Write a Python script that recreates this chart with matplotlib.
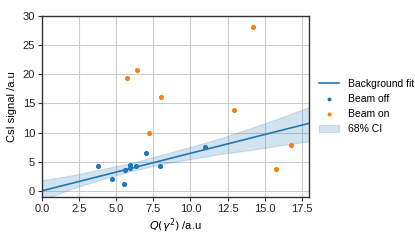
#!/usr/bin/env python3

from matplotlib import pyplot as plt

plt.rcParams["font.family"] = ["Liberation Sans", "DejaVu Sans"]
plt.rcParams["font.size"] = 8

# beam off / beam on measurements
off_x = [3.77, 4.69, 5.50, 5.59, 5.90, 5.93, 6.35, 6.98, 7.92, 10.97]
off_y = [4.3, 1.95, 1.15, 3.5, 4.5, 3.9, 4.2, 6.45, 4.2, 7.5]
on_x = [5.74, 6.42, 7.18, 8.00, 12.97, 14.25, 15.77, 16.76]
on_y = [19.4, 20.7, 10.0, 16.15, 13.9, 28.1, 3.75, 7.85]

# background fit and 68% CI band
fit_x = [0.0, 18.0]
fit_y = [0.0, 11.6]
ci_x = [0.0, 2.0, 4.0, 6.0, 8.0, 10.0, 12.0, 14.0, 16.0, 18.0]
ci_lo = [-1.6, 0.35, 1.95, 3.4, 4.55, 5.45, 6.3, 7.0, 7.8, 8.5]
ci_hi = [1.8, 2.65, 3.7, 4.75, 6.15, 7.55, 9.0, 10.7, 12.5, 14.4]

fig = plt.figure(figsize=(4.15, 2.44), dpi=100)
ax = fig.add_axes([0.101, 0.194, 0.644, 0.740])

ax.grid(True, color="#cccccc", linewidth=0.8)
ax.set_axisbelow(True)

ax.plot(fit_x, fit_y, color="#1f77b4", linewidth=1.2, label="Background fit")
ax.scatter(off_x, off_y, s=7, color="#1f77b4", label="Beam off", zorder=3)
ax.scatter(on_x, on_y, s=7, color="#ff7f0e", label="Beam on", zorder=3)
ax.fill_between(ci_x, ci_lo, ci_hi, color="#1f77b4", alpha=0.2,
                linewidth=0.8, edgecolor="#1f77b4", label="68% CI")

ax.set_xlim(0, 18)
ax.set_ylim(-1, 30)
ax.set_xticks([0, 2.5, 5, 7.5, 10, 12.5, 15, 17.5])
ax.set_xticklabels(["0.0", "2.5", "5.0", "7.5", "10.0", "12.5", "15.0", "17.5"])
ax.set_yticks([0, 5, 10, 15, 20, 25, 30])

for s in ax.spines.values():
    s.set_color("#333333")
    s.set_linewidth(1.0)
ax.tick_params(length=3, width=0.8, color="#333333", labelcolor="#222222", pad=2)

ax.set_xlabel(r"$Q(\gamma^2)$ /a.u", labelpad=2)
ax.set_ylabel("CsI signal /a.u", labelpad=4)

ax.legend(loc="center left", bbox_to_anchor=(1.0, 0.5), frameon=False,
          handlelength=2.0, fontsize=7.5, markerscale=0.7, labelspacing=0.5)

fig.savefig("out.png", dpi=100)
